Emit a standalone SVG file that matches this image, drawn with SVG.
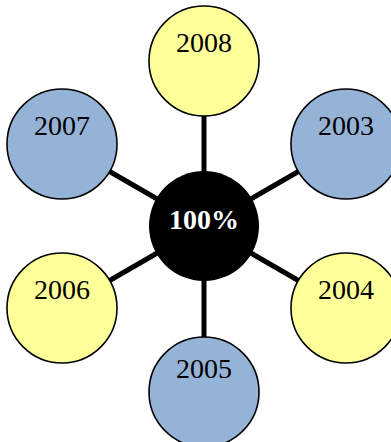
<svg xmlns="http://www.w3.org/2000/svg" width="391" height="442" viewBox="0 0 391 442">
<style>
.c{stroke:#000;stroke-width:1.6}
.y{fill:#FFFF99}
.b{fill:#95B3D7}
.t{font-family:"Liberation Serif",serif;font-size:28px;text-anchor:middle;fill:#000}
.ct{font-family:"Liberation Serif",serif;font-size:28px;font-weight:bold;text-anchor:middle;fill:#fff}
#connectors line{stroke:#000;stroke-width:5}
</style>
<rect width="391" height="442" fill="#fff"/>
<g id="connectors">
<line x1="204" y1="226" x2="204" y2="61"/>
<line x1="204" y1="226" x2="204" y2="392"/>
<line x1="204" y1="226" x2="62" y2="144"/>
<line x1="204" y1="226" x2="346" y2="144"/>
<line x1="204" y1="226" x2="62" y2="308"/>
<line x1="204" y1="226" x2="346" y2="308"/>
</g>
<g id="n2008"><circle class="c y" cx="204" cy="61" r="55"/><text class="t" x="204" y="52">2008</text></g>
<g id="n2007"><circle class="c b" cx="62" cy="144" r="55"/><text class="t" x="62" y="135">2007</text></g>
<g id="n2003"><circle class="c b" cx="346" cy="144" r="55"/><text class="t" x="346" y="135">2003</text></g>
<g id="n2006"><circle class="c y" cx="62" cy="308" r="55"/><text class="t" x="62" y="299">2006</text></g>
<g id="n2004"><circle class="c y" cx="346" cy="308" r="55"/><text class="t" x="346" y="299">2004</text></g>
<g id="n2005"><circle class="c b" cx="204" cy="392" r="55"/><text class="t" x="204" y="378">2005</text></g>
<g id="center"><circle cx="204" cy="226" r="55" fill="#000"/><text class="ct" x="204" y="229">100%</text></g>
</svg>
